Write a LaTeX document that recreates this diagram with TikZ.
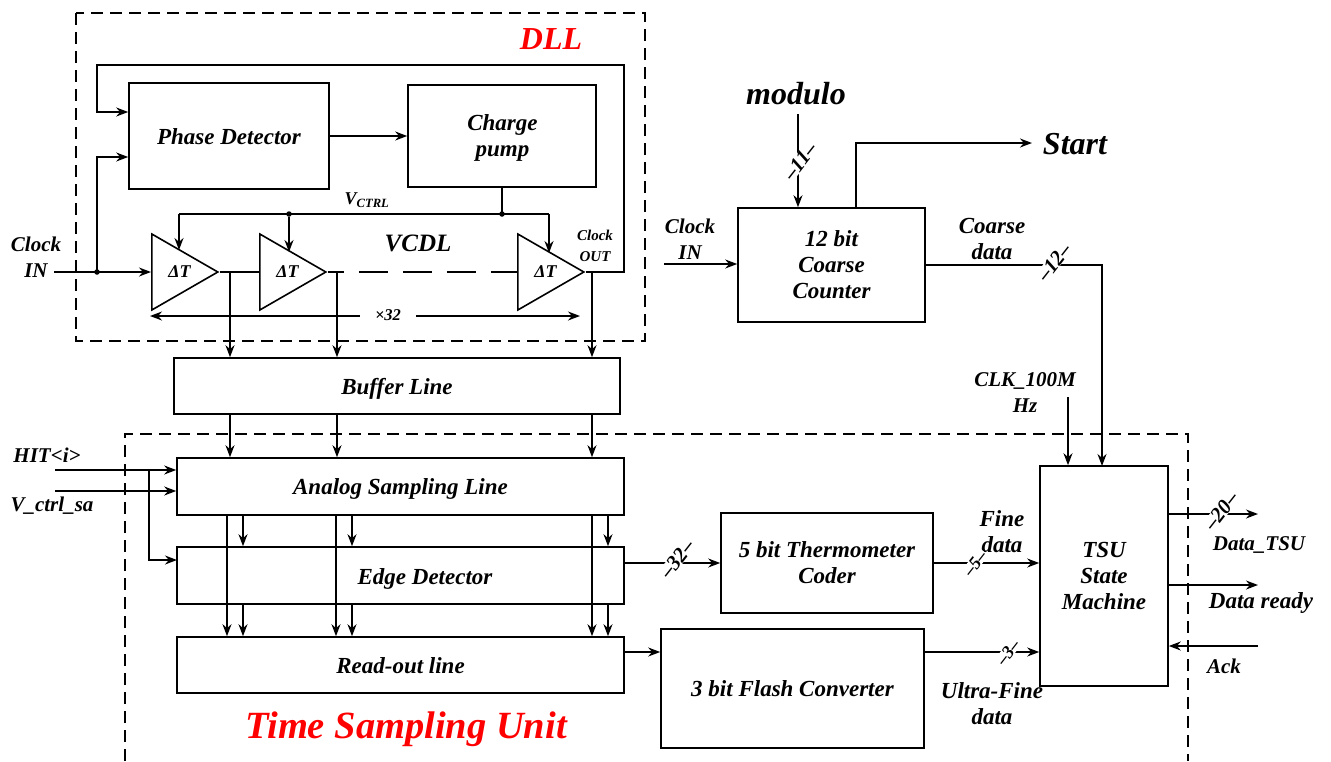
\documentclass[tikz,border=0pt]{standalone}
\usepackage{fontspec}
\setmainfont{Liberation Serif}
\usetikzlibrary{arrows.meta, shapes.geometric, positioning, calc}
\definecolor{tsured}{RGB}{255,0,0}
\tikzset{
	block/.style={draw,line width=1.6pt,inner sep=0pt,align=center},
	oneline/.style={text height=16pt,text depth=0pt},
	lbl/.style={inner sep=0pt,align=center,font=\bfseries\itshape\fontsize{21}{26}\selectfont},
	lblwide/.style={lbl,font=\bfseries\itshape\fontsize{23}{26}\selectfont},
	small/.style={lbl,font=\bfseries\itshape\fontsize{15}{21}\selectfont},
	big/.style={lbl,font=\bfseries\itshape\fontsize{32}{36}\selectfont},
	title/.style={lbl,text=tsured},
	sig/.style={line width=1.6pt,-{Stealth[length=12pt,width=9pt]}},
	wire/.style={line width=1.6pt},
	frame/.style={line width=1.4pt,dash pattern=on 12pt off 7pt},
	amp/.style={draw,line width=1.6pt,isosceles triangle,isosceles triangle stretches,
		minimum width=76pt,minimum height=66pt,inner sep=0pt,anchor=lower side,
		font=\bfseries\itshape\fontsize{18}{20}\selectfont},
	bus/.style={lbl,fill=white,rotate=52,inner xsep=1pt,font=\bfseries\itshape\fontsize{21}{24}\selectfont},
	junction/.style={circle,fill=black,inner sep=0pt,minimum size=5.5pt}
}
\begin{document}
\begin{tikzpicture}[x=1pt,y=-1pt,every node/.style={font=\bfseries\itshape\fontsize{23}{26}\selectfont}]
	\useasboundingbox (0,0) rectangle (1331,761);
	\draw[frame] (76,13) rectangle (645,341);
	\draw[frame] (125,761) |- (1188,434) -- (1188,761);

	\node[block,oneline,minimum width=200pt,minimum height=106pt] (phase) at (229,136) {Phase Detector};
	\node[block,minimum width=188pt,minimum height=102pt] (pump) at (502,136) {};
	\node[lblwide] (pumptext) at (502.5,137.5) {Charge\\pump};
	\node[amp] (delay1) at (151,272) {\hspace*{8pt}ΔT};
	\node[amp] (delay2) at (259,272) {\hspace*{8pt}ΔT};
	\node[amp] (delay3) at (517,272) {\hspace*{8pt}ΔT};
	\node[block,oneline,minimum width=446pt,minimum height=56pt] (buffer) at (397,386) {Buffer Line};
	\node[block,oneline,minimum width=447pt,minimum height=57pt] (analog) at (400.5,486.5) {Analog Sampling Line};
	\node[block,minimum width=447pt,minimum height=57pt] (edge) at (400.5,575.5) {};
	\node[lblwide,oneline] (edgetext) at (425,576) {Edge Detector};
	\node[block,oneline,minimum width=447pt,minimum height=56pt] (readout) at (400.5,665) {Read-out line};
	\node[block,minimum width=212pt,minimum height=100pt] (thermo) at (827,563) {5 bit Thermometer\\Coder};
	\node[block,oneline,minimum width=263pt,minimum height=119pt] (flash) at (792.5,688.5) {3 bit Flash Converter};
	\node[block,minimum width=187pt,minimum height=114pt] (counter) at (831.5,265) {12 bit\\Coarse\\Counter};
	\node[block,minimum width=128pt,minimum height=220pt] (tsu) at (1104,576) {TSU\\State\\Machine};

	\node[title,font=\bfseries\itshape\fontsize{32}{36}\selectfont] (dllname) at (551,39) {DLL};
	\node[title,font=\bfseries\itshape\fontsize{38.5}{44}\selectfont] (tsuname) at (406,729) {Time Sampling Unit};
	\node[lbl,font=\bfseries\itshape\fontsize{25}{28}\selectfont] (vcdl) at (418,243) {VCDL};
	\node[lbl,font=\bfseries\itshape\fontsize{18}{22}\selectfont] (vctrl) at (367,200) {V\textsubscript{CTRL}};
	\node[lbl] (clockin) at (36,257) {Clock\\IN};
	\node[small] (clockout) at (595,246) {Clock\\OUT};
	\node[lbl] (hit) at (47,455) {HIT<i>};
	\node[lbl] (vsa) at (52,506) {V\_ctrl\_sa};
	\node[lbl] (clockin2) at (690,239) {Clock\\IN};
	\node[big] (modulo) at (796,94) {modulo};
	\node[big] (start) at (1075,144) {Start};
	\node[lblwide] (coarse) at (992,239) {Coarse\\data};
	\node[lbl] (clkname) at (1025,393) {CLK\_100M\\Hz};
	\node[lblwide] (fine) at (1002,532) {Fine\\data};
	\node[lblwide] (ultra) at (992,704) {Ultra-Fine\\data};
	\node[lbl] (datatsu) at (1259,545) {Data\_TSU};
	\node[lblwide] (dataready) at (1261,603) {Data ready};
	\node[lbl] (acklbl) at (1224,666) {Ack};

	\coordinate (fbin) at (97,112);
	\coordinate (clkdot) at (97,272);
	\coordinate (clkstart) at (54,272);
	\coordinate (fbtop) at (624,65);
	\coordinate (vleft) at (179,214);
	\coordinate (vright) at (549,214);
	\coordinate (tip1) at (179,250);
	\coordinate (tip2) at (289,252);
	\coordinate (tip3) at (549,253);
	\coordinate (tap1) at (230,272);
	\coordinate (tap2) at (337,272);
	\coordinate (tap3) at (592,272);
	\coordinate (spanl) at (150,316);
	\coordinate (spanr) at (580,316);
	\coordinate (hitstart) at (55,470);
	\coordinate (vsastart) at (55,491);
	\coordinate (hitdown) at (149,470);
	\coordinate (edgein) at (177,560);
	\coordinate (edgeout) at (624,563);
	\coordinate (readout1) at (624,652);
	\coordinate (flashout) at (924,652);
	\coordinate (clk2) at (664,264);
	\coordinate (modstart) at (798,114);
	\coordinate (startup) at (856,208);
	\coordinate (startend) at (1032,143);
	\coordinate (coarsein) at (1102,466);
	\coordinate (clk100) at (1068,397);
	\coordinate (dataout) at (1258,514);
	\coordinate (readyout) at (1258,585);
	\coordinate (ackin) at (1258,646);

	\draw[sig] (phase.east) -- (phase.east -| pump.west);
	\draw[sig] (delay3.apex) -- (fbtop |- delay3.apex) -- (fbtop) -- (97,65) -- (fbin) -- (fbin -| phase.west);
	\draw[sig] (clkstart) -- (delay1.lower side);
	\draw[sig] (clkdot) -- (97,157) -- (phase.west |- 0,157);
	\node[junction] (dot1) at (clkdot) {};
	\draw[wire] (pump.south) -- (pump.south |- vleft);
	\node[junction] (dot2) at (pump.south |- vleft) {};
	\node[junction] (dot3) at (tip2 |- vleft) {};
	\draw[wire] (vleft) -- (vright);
	\draw[sig] (vleft) -- (tip1);
	\draw[sig] (dot3) -- (tip2);
	\draw[sig] (vright) -- (tip3);
	\draw[wire] (delay1.apex) -- (delay2.lower side);
	\draw[wire,dash pattern=on 29pt off 15pt,dash phase=13pt] (delay2.apex) -- (delay3.lower side);

	\draw[sig] (tap1) -- (tap1 |- buffer.north);
	\draw[sig] (tap2) -- (tap2 |- buffer.north);
	\draw[sig] (tap3) -- (tap3 |- buffer.north);
	\draw[sig] (tap1 |- buffer.south) -- (tap1 |- analog.north);
	\draw[sig] (tap2 |- buffer.south) -- (tap2 |- analog.north);
	\draw[sig] (tap3 |- buffer.south) -- (tap3 |- analog.north);
	\draw[{Stealth[length=12pt,width=9pt]}-{Stealth[length=12pt,width=9pt]},wire] (spanl) -- (spanr);
	\node[lbl,fill=white,inner xsep=15pt,inner ysep=2pt,font=\bfseries\itshape\fontsize{16.5}{20}\selectfont] (times) at (388,315) {×32};

	\draw[sig] (hitstart) -- (hitstart -| analog.west);
	\draw[sig] (vsastart) -- (vsastart -| analog.west);
	\draw[sig] (hitdown) |- (edgein);

	\draw[sig] (227,0 |- analog.south) -- (227,0 |- readout.north);
	\draw[sig] (336,0 |- analog.south) -- (336,0 |- readout.north);
	\draw[sig] (592,0 |- analog.south) -- (592,0 |- readout.north);
	\draw[sig] (243,0 |- analog.south) -- (243,0 |- edge.north);
	\draw[sig] (352,0 |- analog.south) -- (352,0 |- edge.north);
	\draw[sig] (608,0 |- analog.south) -- (608,0 |- edge.north);
	\draw[sig] (243,0 |- edge.south) -- (243,0 |- readout.north);
	\draw[sig] (352,0 |- edge.south) -- (352,0 |- readout.north);
	\draw[sig] (608,0 |- edge.south) -- (608,0 |- readout.north);

	\draw[sig] (edgeout) -- (edgeout -| thermo.west);
	\draw[sig] (thermo.east) -- (thermo.east -| tsu.west);
	\draw[sig] (readout1) -- (readout1 -| flash.west);
	\draw[sig] (flashout) -- (flashout -| tsu.west);
	\draw[sig] (clk2) -- (clk2 -| counter.west);
	\draw[sig] (modstart) -- (modstart |- counter.north);
	\draw[sig] (startup) |- (startend);
	\draw[sig] (counter.east) -| (coarsein);
	\draw[sig] (clk100) -- (clk100 |- tsu.north);
	\draw[sig] (dataout -| tsu.east) -- (dataout);
	\draw[sig] (readyout -| tsu.east) -- (readyout);
	\draw[sig] (ackin) -- (ackin -| tsu.east);

	\node[bus] (bus11) at (800,161) {--11--};
	\node[bus] (bus12) at (1054,262) {--12--};
	\node[bus] (bus32) at (677,559) {--32--};
	\node[bus,font=\bfseries\itshape\fontsize{18}{20}\selectfont] (bus5) at (975,563) {--5--};
	\node[bus,font=\bfseries\itshape\fontsize{18}{20}\selectfont] (bus3) at (1008,652) {--3--};
	\node[bus] (bus20) at (1221,511) {--20--};
\end{tikzpicture}
\end{document}
